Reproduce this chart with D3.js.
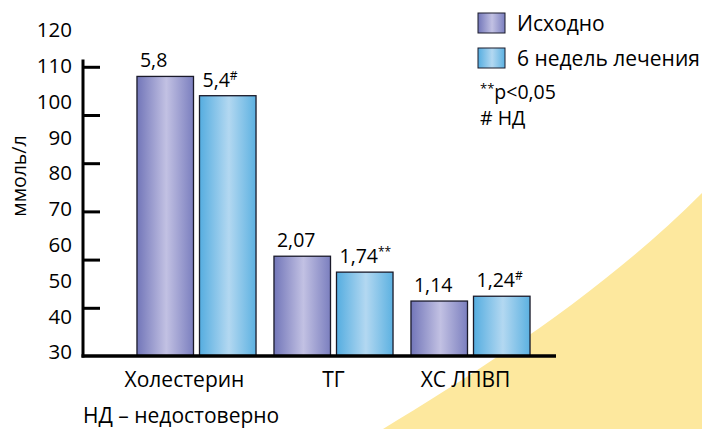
<!DOCTYPE html>
<html>
<head>
<meta charset="utf-8">
<script src="https://cdn.jsdelivr.net/npm/d3@7/dist/d3.min.js"></script>
<style>
  html, body { margin: 0; padding: 0; background: #fff; }
  svg { display: block; }
  text { font-family: "Open Sans", "Noto Sans", sans-serif; fill: #000; }
</style>
</head>
<body>
<svg id="chart" width="702" height="429"></svg>
<script>
// Lipid profile, mmol/l: baseline vs. after 6 weeks of treatment
const categories = ["Холестерин", "ТГ", "ХС ЛПВП"];
const seriesNames = ["Исходно", "6 недель лечения"];
const baselineValues = [5.8, 2.07, 1.14];
const treatedValues = [5.4, 1.74, 1.24];
const valueLabels = [["5,8", ""], ["5,4", "#"], ["2,07", ""], ["1,74", "**"], ["1,14", ""], ["1,24", "#"]];
const scaleLabels = [30, 40, 50, 60, 70, 80, 90, 100, 110, 120];
const axisTicks = [1, 2, 3, 4, 5, 6];

const svg = d3.select("#chart");
const defs = svg.append("defs");

function barGradient(id, edgeL, mid, edgeR) {
  const g = defs.append("linearGradient").attr("id", id)
    .attr("x1", "0%").attr("x2", "100%").attr("y1", "0%").attr("y2", "0%");
  g.append("stop").attr("offset", "0%").attr("stop-color", edgeL);
  g.append("stop").attr("offset", "52%").attr("stop-color", mid);
  g.append("stop").attr("offset", "100%").attr("stop-color", edgeR);
}
barGradient("gBase", "#7276b9", "#c2c1e3", "#7b7fbf");
barGradient("gTreat", "#55ade0", "#b3d8f1", "#5cb1e1");
const fills = ["url(#gBase)", "url(#gTreat)"];

// Decorative yellow sweep in the lower-right corner
svg.append("path")
  .attr("d", "M383,429 C480,370 600,295 702,193 L702,429 Z")
  .attr("fill", "#fde89e");

const baseY = 356;
const y = d3.scaleLinear().domain([0, 6.12]).range([baseY, 61]);
const x0 = d3.scaleBand().domain(categories).range([128, 539]).paddingInner(0.131).paddingOuter(0.0655);
const x1 = d3.scaleBand().domain(seriesNames).range([0, x0.bandwidth()]).paddingInner(0.096);

const rows = categories.map((c, i) => ({
  cat: c,
  vals: [baselineValues[i], treatedValues[i]]
}));
const bars = [];
rows.forEach((r, i) => r.vals.forEach((v, j) => bars.push({
  cat: r.cat, series: seriesNames[j], j, v, label: valueLabels[i * 2 + j]
})));

// Bars
svg.append("g").selectAll("rect").data(bars).join("rect")
  .attr("x", d => x0(d.cat) + x1(d.series))
  .attr("y", d => y(d.v))
  .attr("width", x1.bandwidth())
  .attr("height", d => baseY - y(d.v))
  .attr("fill", d => fills[d.j])
  .attr("stroke", "#1a1a2a")
  .attr("stroke-width", 1.3);

// Value labels
const vl = svg.append("g").selectAll("text").data(bars).join("text")
  .attr("x", d => x0(d.cat) + x1(d.series) + 3)
  .attr("y", d => y(d.v) - 9)
  .attr("font-size", 19.5);
vl.append("tspan").text(d => d.label[0]);
vl.append("tspan").attr("font-size", 12).attr("dy", -7).text(d => d.label[1]);

// Left axis with integer ticks
const yAxis = d3.axisRight(y).tickValues(axisTicks).tickSize(17).tickFormat("");
const ag = svg.append("g").attr("transform", "translate(83,0)").call(yAxis);
ag.select(".domain").remove();
ag.selectAll(".tick line").attr("stroke", "#000").attr("stroke-width", 3);
svg.append("line").attr("x1", 83).attr("x2", 83).attr("y1", y(6.12) - 1.5).attr("y2", baseY + 1.5)
  .attr("stroke", "#000").attr("stroke-width", 3);
svg.append("line").attr("x1", 81.5).attr("x2", 556).attr("y1", baseY).attr("y2", baseY)
  .attr("stroke", "#000").attr("stroke-width", 3.5);

// Scale numbers alongside the axis
const ls = d3.scaleLinear().domain([30, 120]).range([352, 30]);
svg.append("g").selectAll("text").data(scaleLabels).join("text")
  .attr("x", 72).attr("y", d => ls(d)).attr("dy", "0.36em")
  .attr("text-anchor", "end").attr("font-size", 20.5).text(d => d);

// Axis title
svg.append("text").attr("transform", "translate(26,176) rotate(-90)")
  .attr("text-anchor", "middle").attr("font-size", 19.5).text("ммоль/л");

// Category labels
svg.append("g").selectAll("text").data(categories).join("text")
  .attr("x", (d, i) => x0(d) + x0.bandwidth() / 2 + (i === 0 ? -12 : i === 2 ? -5 : 0))
  .attr("y", 387).attr("text-anchor", "middle").attr("font-size", 21).text(d => d);

// Footnote
svg.append("text").attr("x", 83).attr("y", 423).attr("font-size", 21).text("НД – недостоверно");

// Legend
const lg = svg.append("g");
seriesNames.forEach((s, i) => {
  lg.append("rect").attr("x", 478).attr("y", 13 + i * 35).attr("width", 27).attr("height", 20)
    .attr("fill", fills[i]).attr("stroke", "#1a1a2a").attr("stroke-width", 1);
  lg.append("text").attr("x", 517).attr("y", 31 + i * 35).attr("font-size", 21).text(s);
});
const n1 = lg.append("text").attr("x", 480).attr("y", 99).attr("font-size", 19.5);
n1.append("tspan").attr("font-size", 13).attr("dy", -6).text("**");
n1.append("tspan").attr("dy", 6).text("p<0,05");
lg.append("text").attr("x", 480).attr("y", 125).attr("font-size", 19.5).text("# НД");
</script>
</body>
</html>
